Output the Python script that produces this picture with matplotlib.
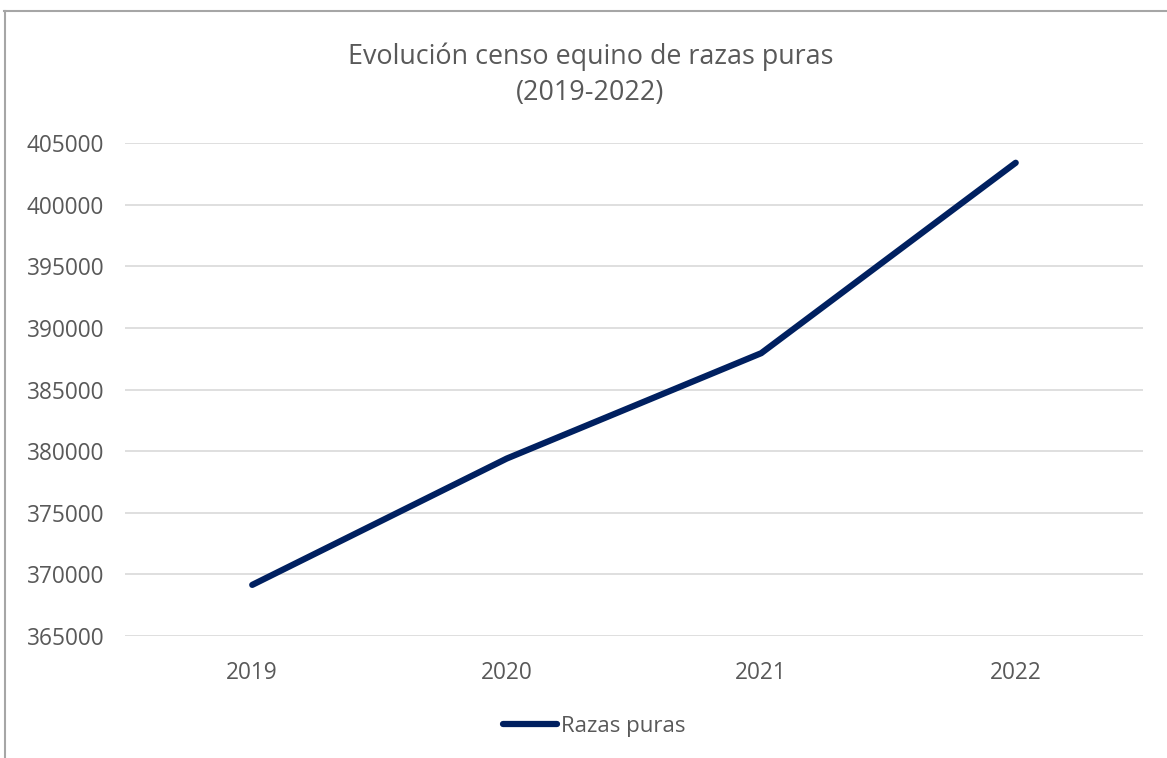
import matplotlib.pyplot as plt
from matplotlib.lines import Line2D

# data
years = ["2019", "2020", "2021", "2022"]
razas_puras = [369150, 379400, 387950, 403400]
y_ticks = [365000, 370000, 375000, 380000, 385000, 390000, 395000, 400000, 405000]

NAVY = "#002060"
GREY = "#595959"

plt.rcParams["font.family"] = ["Open Sans", "DejaVu Sans"]


def main():
    fig = plt.figure(figsize=(11.67, 7.58), dpi=100)
    ax = fig.add_axes([0.1071, 0.1609, 0.8723, 0.6504])

    x = range(len(years))
    ax.plot(x, razas_puras, color=NAVY, lw=4.5, solid_capstyle="round",
            solid_joinstyle="round", label="Razas puras", zorder=3)

    ax.set_xlim(-0.5, len(years) - 0.5)
    ax.set_ylim(y_ticks[0], y_ticks[-1])
    ax.set_yticks(y_ticks)
    ax.set_yticklabels([str(v) for v in y_ticks])
    ax.set_xticks(list(x))
    ax.set_xticklabels(years)
    ax.tick_params(length=0, labelsize=16.3, colors=GREY)
    ax.tick_params(axis="y", pad=15)
    ax.tick_params(axis="x", pad=18)
    ax.grid(axis="y", color="#d9d9d9", lw=1.2)
    ax.set_axisbelow(True)
    for s in ax.spines.values():
        s.set_visible(False)

    fig.text(0.506, 0.901, "Evolución censo equino de razas puras\n(2019-2022)",
             ha="center", va="center", fontsize=19.4, color=GREY, linespacing=1.38)

    fig.legend(handles=[Line2D([0], [0], color=NAVY, lw=4.5, solid_capstyle="round")],
               labels=["Razas puras"], loc="center", bbox_to_anchor=(0.5094, 0.042),
               frameon=False, fontsize=16, labelcolor=GREY, handlelength=2.4,
               handletextpad=0.2)

    # outer frame (top and left edges only, as in the source)
    fig.add_artist(Line2D([0.003, 1.0], [0.986, 0.986], color="#a6a6a6", lw=1.5,
                          transform=fig.transFigure))
    fig.add_artist(Line2D([0.0045, 0.0045], [0.0, 0.986], color="#a6a6a6", lw=1.5,
                          transform=fig.transFigure))

    fig.savefig("out.png", dpi=100, facecolor="white")


if __name__ == "__main__":
    main()
